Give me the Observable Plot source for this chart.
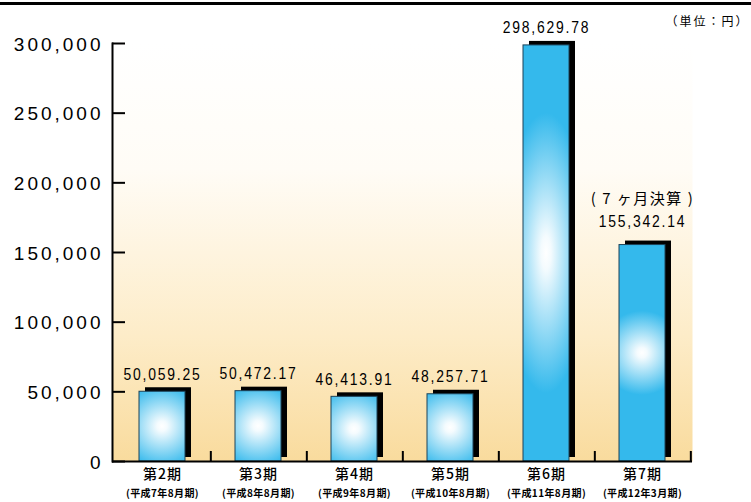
<!DOCTYPE html>
<html><head><meta charset="utf-8">
<script src="https://cdn.jsdelivr.net/npm/d3@7"></script>
<script src="https://cdn.jsdelivr.net/npm/@observablehq/plot@0.6"></script>
<style>
body{margin:0;background:#fff;}
#chart{position:relative;width:751px;height:502px;overflow:hidden;}
#topline{position:absolute;left:0;top:2px;width:751px;height:3px;background:#000;}
svg g[aria-label="y-axis tick label"]{letter-spacing:3px;}
svg g[aria-description="values"]{letter-spacing:2.2px;}
svg g[aria-description="note"]{letter-spacing:1.5px;}
svg g[aria-description="periods"]{letter-spacing:1px;}
svg g[aria-description="subs"]{letter-spacing:0.4px;}
svg g[aria-description="unit"]{letter-spacing:2px;}
</style></head><body><div id="chart"><div id="topline"></div></div>
<script>
const periods = ["第2期","第3期","第4期","第5期","第6期","第7期"];
const subLabels = ["(平成7年8月期)","(平成8年8月期)","(平成9年8月期)","(平成10年8月期)","(平成11年8月期)","(平成12年3月期)"];
const values = [50059.25, 50472.17, 46413.91, 48257.71, 298629.78, 155342.14];
const valueLabels = ["50,059.25","50,472.17","46,413.91","48,257.71","298,629.78","155,342.14"];
const notes = ["","","","","","( 7 ヶ月決算 )"];
const yTicks = [0,50000,100000,150000,200000,250000,300000];
const unitLabel = "（単位：円）";

const data = periods.map((p,i)=>({period:p, sub:subLabels[i], value:values[i], label:valueLabels[i], note:notes[i]}));

const W = 751, H = 502, mL = 112, mR = 59, mT = 43, mB = 41;
const bandStep = (W - mL - mR) / periods.length;
const sans = "'Liberation Sans',Arial,sans-serif";
const cjk = "'Noto Sans CJK JP','Noto Sans',sans-serif";
const blue = "#34b9ec";

const plot = Plot.plot({
  width: W, height: H,
  marginLeft: mL, marginRight: mR, marginTop: mT, marginBottom: mB,
  style: {background: "transparent", fontFamily: sans, color: "#000", overflow: "visible"},
  x: {domain: periods, paddingInner: 0.52, paddingOuter: 0.26, axis: null},
  y: {domain: [0, 300000], axis: null},
  marks: [
    Plot.frame({fill: "url(#bgGrad)", stroke: "none"}),
    Plot.barY(data, {x: "period", y: "value", fill: "#000", dx: 6, dy: -4}),
    Plot.barY(data, {x: "period", y: "value", fill: blue, stroke: "#1d4258", strokeWidth: 1, ariaDescription: "bars"}),
    Plot.axisY(yTicks, {tickSize: 13, dx: 13, strokeWidth: 2, fill: "none", label: null}),
    Plot.axisY(yTicks, {tickSize: 0, tickPadding: 9, tickFormat: d3.format(","), fontSize: 19, dy: 1, label: null}),
    Plot.frame({anchor: "left", strokeWidth: 2}),
    Plot.ruleY([0], {strokeWidth: 2}),
    Plot.ruleX(periods, {x: d => d, y1: 0, y2: 7200, dx: bandStep / 2, strokeWidth: 2}),
    Plot.text(data, {filter: d => !d.note, x: "period", y: "value", text: "label", dy: -12, lineAnchor: "bottom", fontSize: 17, fontFamily: sans, ariaDescription: "values"}),
    Plot.text(data, {filter: d => d.note, x: "period", y: "value", text: "label", dy: -18, lineAnchor: "bottom", fontSize: 17, fontFamily: sans, ariaDescription: "values"}),
    Plot.text(data, {filter: d => d.note, x: "period", y: "value", text: "note", dy: -41, lineAnchor: "bottom", fontSize: 15, fontFamily: cjk, ariaDescription: "note"}),
    Plot.text(data, {x: "period", text: "period", frameAnchor: "bottom", dy: 17, fontSize: 14, fontWeight: 500, fontFamily: cjk, ariaDescription: "periods"}),
    Plot.text(data, {x: "period", text: "sub", frameAnchor: "bottom", dy: 35, fontSize: 10, fontWeight: 700, fontFamily: cjk, ariaDescription: "subs"}),
    Plot.text([unitLabel], {frameAnchor: "top-right", dx: 57, dy: -26, textAnchor: "end", fontSize: 12, fontFamily: cjk, ariaDescription: "unit"})
  ]
});

const svg = d3.select(plot);
const defs = svg.insert("defs", ":first-child");
const bg = defs.append("linearGradient").attr("id", "bgGrad").attr("x1", 0).attr("y1", 0).attr("x2", 0).attr("y2", 1);
[[0, "#ffffff"], [0.3, "#fffcf6"], [0.7, "#fdecc8"], [1, "#f9db9d"]].forEach(([o, c]) => bg.append("stop").attr("offset", o).attr("stop-color", c));

// radial glow inside each bar
const glow = 42, tallGlow = 140;
svg.selectAll('g[aria-description="bars"] rect').each(function(d, i) {
  const r = d3.select(this);
  const w = +r.attr("width"), h = +r.attr("height");
  const rx = glow, ry = h > 300 ? tallGlow : glow;
  const g = defs.append("radialGradient").attr("id", "barGrad" + i)
    .attr("cx", 0.5).attr("cy", 0.5).attr("r", 0.5)
    .attr("gradientTransform", `translate(0.5,0.5) scale(${2 * rx / w},${2 * ry / h}) translate(-0.5,-0.5)`);
  [[0, "#ffffff"], [0.12, "#f4fbfe"], [1, blue]].forEach(([o, c]) => g.append("stop").attr("offset", o).attr("stop-color", c));
  r.attr("fill", `url(#barGrad${i})`);
});

// condensed look for the value labels
svg.selectAll('g[aria-description="values"] text').each(function() {
  const t = d3.select(this);
  const tr = t.attr("transform") || "";
  t.attr("transform", tr + " scale(0.82,1)");
});

document.getElementById("chart").appendChild(plot);
</script>
</body></html>
